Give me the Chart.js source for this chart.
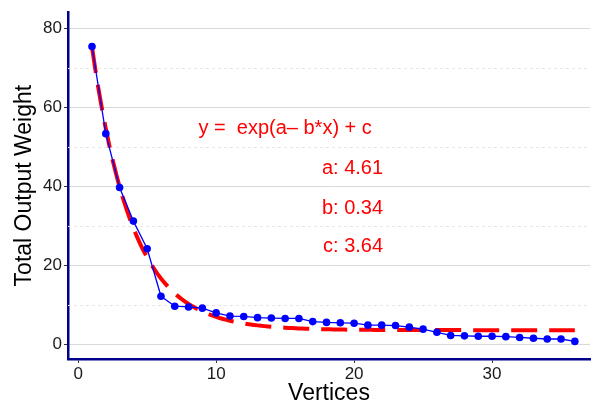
<!DOCTYPE html>
<html>
<head>
<meta charset="utf-8">
<script src="https://cdn.jsdelivr.net/npm/chart.js@4.4.1/dist/chart.umd.min.js"></script>
<style>
  html, body { margin: 0; padding: 0; background: #fff; }
  #wrap { width: 594px; height: 407px; }
</style>
</head>
<body>
<div id="wrap"><canvas id="chart" width="594" height="407"></canvas></div>
<script>
// observed output weight per vertex count
const vertices = [1, 2, 3, 4, 5, 6, 7, 8, 9, 10, 11, 12, 13, 14, 15, 16, 17, 18,
  19, 20, 21, 22, 23, 24, 25, 26, 27, 28, 29, 30, 31, 32, 33, 34, 35, 36]
const weights = [75.3, 53.3, 39.7, 31.2, 24.2, 12.2, 9.7, 9.5, 9.2, 8.0, 7.2, 7.1,
  6.8, 6.7, 6.6, 6.6, 5.8, 5.6, 5.5, 5.4, 4.9, 4.9, 4.8, 4.4, 3.9, 3.1, 2.3, 2.2,
  2.1, 2.1, 2.0, 1.8, 1.6, 1.4, 1.4, 0.8]

// fitted model y = exp(a - b*x) + c
const fitNames = ['a', 'b', 'c']
const fitParams = [4.61, 0.34, 3.64]

const xTicks = [0, 10, 20, 30]
const yTicks = [0, 20, 40, 60, 80]
const yMinor = [10, 30, 50, 70]

const [pa, pb, pc] = fitParams
const fitCurve = []
for (let i = 0; i <= (36 - 1) * 4; i++) {
  const x = 1 + i / 4
  fitCurve.push({ x: x, y: Math.exp(pa - pb * x) + pc })
}

const FONT = "'Liberation Sans', Arial, sans-serif"

const extras = {
  id: 'extras',
  beforeDatasetsDraw(chart) {
    const { ctx, chartArea: a, scales: { y } } = chart
    ctx.save()
    ctx.strokeStyle = '#e6e6e6'
    ctx.lineWidth = 1
    ctx.setLineDash([3, 3])
    yMinor.forEach(v => {
      const py = Math.round(y.getPixelForValue(v)) + 0.5
      ctx.beginPath()
      ctx.moveTo(a.left, py)
      ctx.lineTo(a.right, py)
      ctx.stroke()
    })
    ctx.restore()
  },
  afterDatasetsDraw(chart) {
    const { ctx, scales: { x, y } } = chart
    ctx.save()
    ctx.fillStyle = '#ff0000'
    ctx.font = '20px ' + FONT
    ctx.textBaseline = 'middle'
    ctx.textAlign = 'center'
    ctx.fillText('y =  exp(a\u2013 b*x) + c', x.getPixelForValue(15.0), y.getPixelForValue(54.5))
    ctx.textAlign = 'right'
    const rows = [44.5, 34.5, 24.8]
    fitNames.forEach((n, i) => {
      ctx.fillText(n + ': ' + fitParams[i].toFixed(2), x.getPixelForValue(22.1), y.getPixelForValue(rows[i]))
    })
    ctx.restore()
  }
}

new Chart(document.getElementById('chart'), {
  type: 'scatter',
  data: {
    datasets: [
      {
        label: 'fit',
        data: fitCurve,
        showLine: true,
        borderColor: '#ff0000',
        borderWidth: 4,
        borderDash: [26, 12],
        pointRadius: 0,
        tension: 0,
        order: 2
      },
      {
        label: 'weight',
        data: vertices.map((v, i) => ({ x: v, y: weights[i] })),
        showLine: true,
        borderColor: '#0000ff',
        borderWidth: 1.3,
        backgroundColor: '#0000ff',
        pointRadius: 3.8,
        pointBorderWidth: 0,
        order: 1
      }
    ]
  },
  options: {
    responsive: false,
    animation: false,
    layout: { padding: { top: 10, right: 0, left: 0, bottom: 0 } },
    plugins: { legend: { display: false }, tooltip: { enabled: false } },
    scales: {
      x: {
        type: 'linear',
        min: -0.74,
        max: 37.1,
        afterBuildTicks: s => { s.ticks = xTicks.map(v => ({ value: v })) },
        afterFit: s => { s.height = 48 },
        grid: { drawOnChartArea: false, drawTicks: true, tickLength: 4, tickColor: '#333' },
        border: { color: '#00008b', width: 2.5 },
        ticks: { color: '#1a1a1a', font: { family: FONT, size: 17 }, padding: 1, maxRotation: 0 },
        title: { display: true, text: 'Vertices', color: '#000', font: { family: FONT, size: 23 }, padding: { top: -1, bottom: 0 } }
      },
      y: {
        type: 'linear',
        min: -3.65,
        max: 84,
        afterBuildTicks: s => { s.ticks = yTicks.map(v => ({ value: v })) },
        afterFit: s => { s.width = 68 },
        grid: { color: '#d9d9d9', lineWidth: 1, tickLength: 4, tickColor: '#333' },
        border: { color: '#00008b', width: 2.5 },
        ticks: { color: '#1a1a1a', font: { family: FONT, size: 17 }, padding: 2 },
        title: { display: true, text: 'Total Output Weight', color: '#000', font: { family: FONT, size: 23 }, padding: { top: 11, bottom: 0 } }
      }
    }
  },
  plugins: [extras]
})
</script>
</body>
</html>
